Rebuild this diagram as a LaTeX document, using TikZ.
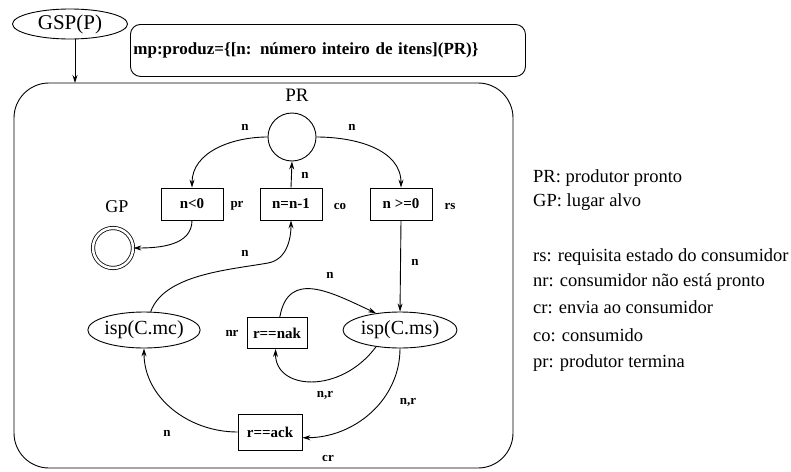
\documentclass[tikz,border=0pt]{standalone}
\usepackage{fontspec}
\setmainfont{Liberation Serif}
\usetikzlibrary{arrows.meta,shapes.geometric}
\tikzset{
	place/.style={ellipse, draw, line width=0.9pt, inner sep=0pt, font=\fontsize{20}{22}\selectfont},
	trans/.style={rectangle, draw, line width=0.9pt, minimum width=62pt, minimum height=32pt, inner sep=0pt, font=\bfseries\fontsize{15}{17}\selectfont},
	lbl/.style={inner sep=0pt, font=\bfseries\fontsize{13}{15}\selectfont},
	flow/.style={line width=0.9pt, -{Stealth[length=8pt, width=5pt]}},
	legend/.style={anchor=west, inner sep=0pt, font=\fontsize{18.5}{20}\selectfont}
}

\begin{document}
\begin{tikzpicture}[x=1pt, y=1pt]
				\useasboundingbox (0,0) rectangle (791,-471);
				
				\node[place, minimum width=115pt, minimum height=30pt, font=\fontsize{21}{23}\selectfont] (gsp) at (70,-24) {GSP(P)};
				\node[draw, line width=0.9pt, rounded corners=10pt, anchor=north west, minimum width=395pt, minimum height=52pt, text width=389pt, inner xsep=3pt, align=left, font=\bfseries\fontsize{17}{19}\selectfont] (produz) at (130,-24) {mp:produz=\{[n: número inteiro de itens](PR)\}};
				
				\draw[line width=0.9pt, rounded corners=35pt] (14,-83) rectangle (513,-468);
				\coordinate (entry) at (75,-83);
				\draw[flow] (gsp.south -| entry) -- (entry);
				
				\node[font=\fontsize{19}{21}\selectfont] (prname) at (297,-95) {PR};
				\node[circle, draw, line width=0.9pt, minimum size=48pt, inner sep=0pt] (pr) at (292,-137) {};
				
				\node[trans] (tlt) at (192,-204) {n<0};
				\node[trans] (tdec) at (291,-204) {n=n-1};
				\node[trans] (tge) at (401,-204) {n >=0};
				\node[lbl] (lpr) at (237,-206) {pr};
				\node[lbl] (lco) at (340,-206) {co};
				\node[lbl] (lrs) at (450,-206) {rs};
				
				\node[font=\fontsize{18}{20}\selectfont] (gpname) at (117,-207) {GP};
				\node[circle, draw, double, double distance=2.5pt, line width=0.8pt, minimum size=40pt] (gp) at (113,-248) {};
				
				\node[place, minimum width=112pt, minimum height=36pt] (mc) at (144,-330) {isp(C.mc)};
				\node[place, minimum width=114pt, minimum height=36pt] (ms) at (400,-330) {isp(C.ms)};
				\node[trans, minimum width=60pt, minimum height=31pt] (nak) at (277,-333) {r==nak};
				\node[lbl] (lnr) at (232,-333) {nr};
				\node[trans, minimum width=64pt, minimum height=36pt] (ack) at (270,-432) {r==ack};
				\node[lbl] (lcr) at (328,-458) {cr};
				
				\draw[flow] (pr.west) to[out=180, in=90] (tlt.north);
				\draw[flow] (pr.east) to[out=0, in=90] (tge.north);
				\draw[flow] (tdec.north) -- (pr.south);
				\draw[flow] (tlt.south) to[out=-90, in=0] (gp.east);
				\coordinate (bend) at (268,-263);
				\draw[flow] (mc.70) to[out=70, in=190, looseness=0.8] (bend) to[out=10, in=-90] (tdec.south);
				\draw[flow] (tge.south) -- (ms.north);
				\draw[flow] (nak.80) to[out=80, in=155, looseness=1.3] (ms.145);
				\draw[flow] (ms.215) .. controls (340,-395) and (275,-390) .. (nak.-95);
				\draw[flow] (ms.south) to[out=-90, in=0] (ack.-10);
				\draw[flow] (ack.west) to[out=180, in=-90] (mc.south);
				
				\node[lbl] (n1) at (245,-127) {n};
				\node[lbl] (n2) at (352,-127) {n};
				\node[lbl] (n3) at (305,-175) {n};
				\node[lbl] (n4) at (245,-253) {n};
				\node[lbl] (n5) at (415,-262) {n};
				\node[lbl] (n6) at (330,-275) {n};
				\node[lbl] (n7) at (325,-395) {n,r};
				\node[lbl] (n8) at (408,-402) {n,r};
				\node[lbl] (n9) at (167,-433) {n};
				
				\node[legend] (leg1) at (533,-178) {PR: produtor pronto};
				\node[legend] (leg2) at (533,-202) {GP: lugar alvo};
				\node[legend] (leg3) at (533,-257) {rs: requisita estado do consumidor};
				\node[legend] (leg4) at (533,-282) {nr: consumidor não está pronto};
				\node[legend] (leg5) at (533,-307) {cr: envia ao consumidor};
				\node[legend] (leg6) at (533,-335) {co: consumido};
				\node[legend] (leg7) at (533,-363) {pr: produtor termina};
\end{tikzpicture}
\end{document}
